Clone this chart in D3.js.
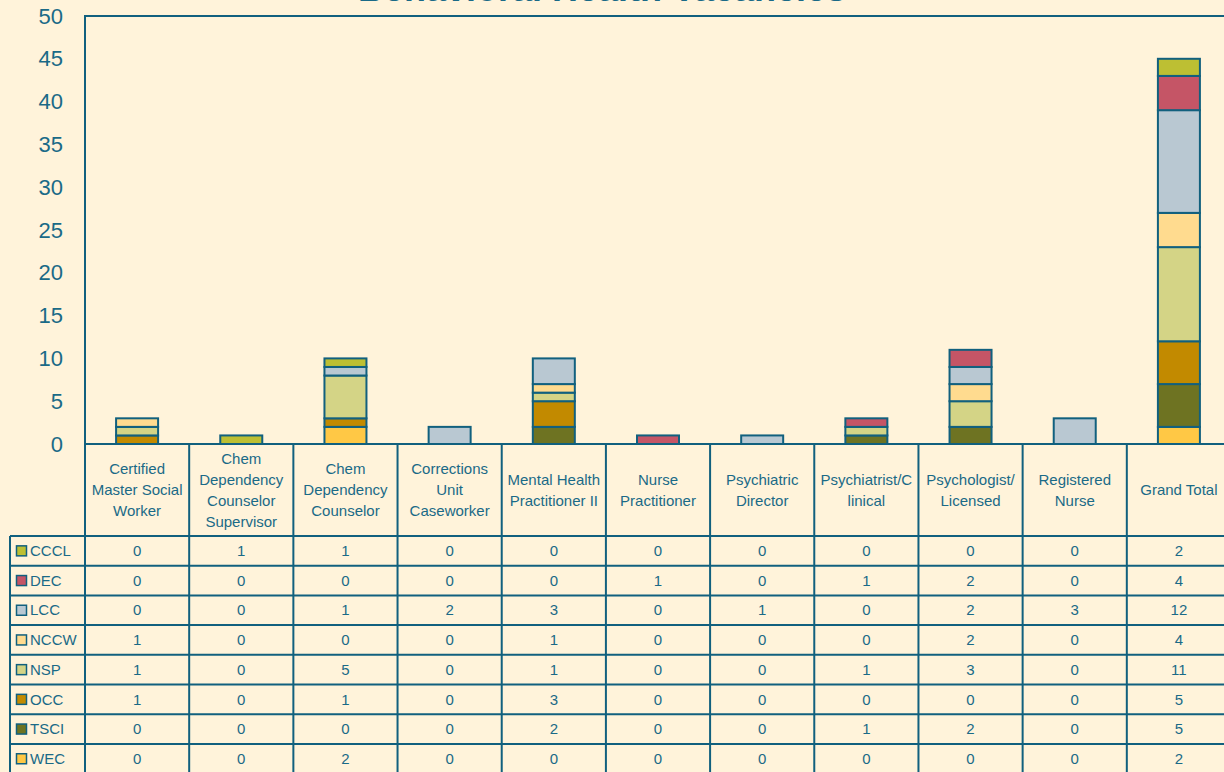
<!DOCTYPE html>
<html>
<head>
<meta charset="utf-8">
<script src="https://cdn.jsdelivr.net/npm/d3@7"></script>
<style>
  body { margin: 0; background: #fff3da; overflow: hidden; }
  svg { display: block; }
  text { font-family: "Liberation Sans", Arial, sans-serif; fill: #1a6a87; }
</style>
</head>
<body>
<svg id="chart" width="1224" height="772"></svg>
<script>
// categories (line breaks as shown in the header cells)
const categories = [
  'Certified\nMaster Social\nWorker',
  'Chem\nDependency\nCounselor\nSupervisor',
  'Chem\nDependency\nCounselor',
  'Corrections\nUnit\nCaseworker',
  'Mental Health\nPractitioner II',
  'Nurse\nPractitioner',
  'Psychiatric\nDirector',
  'Psychiatrist/C\nlinical',
  'Psychologist/\nLicensed',
  'Registered\nNurse',
  'Grand Total'
];

// series in table order (top to bottom)
const seriesNames = ['CCCL', 'DEC', 'LCC', 'NCCW', 'NSP', 'OCC', 'TSCI', 'WEC'];
const seriesColors = ['#bdbf33', '#c55566', '#b9c8d2', '#ffdb8f', '#d4d486', '#c28a00', '#6e7322', '#ffc845'];

const CCCL = [0, 1, 1, 0, 0, 0, 0, 0, 0, 0, 2];
const DEC  = [0, 0, 0, 0, 0, 1, 0, 1, 2, 0, 4];
const LCC  = [0, 0, 1, 2, 3, 0, 1, 0, 2, 3, 12];
const NCCW = [1, 0, 0, 0, 1, 0, 0, 0, 2, 0, 4];
const NSP  = [1, 0, 5, 0, 1, 0, 0, 1, 3, 0, 11];
const OCC  = [1, 0, 1, 0, 3, 0, 0, 0, 0, 0, 5];
const TSCI = [0, 0, 0, 0, 2, 0, 0, 1, 2, 0, 5];
const WEC  = [0, 0, 2, 0, 0, 0, 0, 0, 0, 0, 2];

const yTicks = [0, 5, 10, 15, 20, 25, 30, 35, 40, 45, 50];

const seriesValues = [CCCL, DEC, LCC, NCCW, NSP, OCC, TSCI, WEC];
const lineColor = '#11607e';

const svg = d3.select('#chart');

// build rows for the stack
const rows = categories.map(function (c, i) {
  const r = { cat: c };
  seriesNames.forEach(function (s, j) { r[s] = seriesValues[j][i]; });
  return r;
});

// stacked bottom to top: WEC first, CCCL last
const stackKeys = seriesNames.slice().reverse();
const stacked = d3.stack().keys(stackKeys)(rows);
const colorOf = d3.scaleOrdinal().domain(seriesNames).range(seriesColors);

const plotLeft = 85, plotTop = 16, plotBottom = 444;
const x = d3.scaleBand().domain(categories).range([plotLeft, 1231]);
const y = d3.scaleLinear().domain([0, 50]).range([plotBottom, plotTop]);

// title (cut off at the top edge, as in the original)
svg.append('text')
  .attr('x', 602)
  .attr('y', 0.5)
  .attr('text-anchor', 'middle')
  .style('font-size', '36px')
  .style('font-weight', 'bold')
  .text('Behavioral Health Vacancies');

// y axis labels
const yAxis = d3.axisLeft(y).tickValues(yTicks).tickSize(0).tickPadding(22);
const gy = svg.append('g').attr('transform', 'translate(' + plotLeft + ',0)').call(yAxis);
gy.select('.domain').remove();
gy.selectAll('text')
  .style('font-size', '22px')
  .style('font-family', '"Liberation Sans", Arial, sans-serif')
  .attr('fill', '#1a6a87');

// bars
const barW = 42;
svg.append('g')
  .selectAll('g')
  .data(stacked)
  .join('g')
  .attr('fill', function (d) { return colorOf(d.key); })
  .selectAll('rect')
  .data(function (d) { return d.filter(function (p) { return p[1] > p[0]; }); })
  .join('rect')
  .attr('x', function (d) { return x(d.data.cat) + x.bandwidth() / 2 - barW / 2; })
  .attr('y', function (d) { return y(d[1]); })
  .attr('width', barW)
  .attr('height', function (d) { return y(d[0]) - y(d[1]); })
  .attr('stroke', lineColor)
  .attr('stroke-width', 2);

// plot frame (top and left)
svg.append('path')
  .attr('d', 'M' + plotLeft + ',' + 536 + 'V' + plotTop + 'H1224')
  .attr('fill', 'none')
  .attr('stroke', lineColor)
  .attr('stroke-width', 2);

// header row
const headTop = plotBottom, tableTop = 536, rowH = 29.7;
const tableBottom = tableTop + rowH * seriesNames.length;
const legendLeft = 10;

svg.append('line')
  .attr('x1', plotLeft).attr('x2', 1224)
  .attr('y1', headTop).attr('y2', headTop)
  .attr('stroke', lineColor).attr('stroke-width', 2);

// vertical column lines
const colEdges = categories.map(function (c) { return x(c) + x.bandwidth(); });
svg.append('g')
  .selectAll('line')
  .data(colEdges)
  .join('line')
  .attr('x1', function (d) { return d; })
  .attr('x2', function (d) { return d; })
  .attr('y1', headTop)
  .attr('y2', tableBottom)
  .attr('stroke', lineColor)
  .attr('stroke-width', 2);

svg.append('line')
  .attr('x1', plotLeft).attr('x2', plotLeft)
  .attr('y1', plotTop).attr('y2', tableBottom)
  .attr('stroke', lineColor).attr('stroke-width', 2);
svg.append('line')
  .attr('x1', legendLeft).attr('x2', legendLeft)
  .attr('y1', tableTop).attr('y2', tableBottom)
  .attr('stroke', lineColor).attr('stroke-width', 2);

// horizontal row lines
svg.append('g')
  .selectAll('line')
  .data(d3.range(seriesNames.length + 1))
  .join('line')
  .attr('x1', legendLeft)
  .attr('x2', 1224)
  .attr('y1', function (i) { return tableTop + i * rowH; })
  .attr('y2', function (i) { return tableTop + i * rowH; })
  .attr('stroke', lineColor)
  .attr('stroke-width', 2);

// header labels
const lineH = 21;
const headMid = (headTop + tableTop) / 2;
svg.append('g')
  .selectAll('text')
  .data(categories)
  .join('text')
  .attr('text-anchor', 'middle')
  .style('font-size', '15px')
  .each(function (c) {
    const lines = c.split('\n');
    const t = d3.select(this);
    const y0 = headMid - (lines.length - 1) * lineH / 2;
    lines.forEach(function (l, k) {
      t.append('tspan')
        .attr('x', x(c) + x.bandwidth() / 2)
        .attr('y', y0 + k * lineH)
        .attr('dy', '0.35em')
        .text(l);
    });
  });

// legend cells
const legend = svg.append('g')
  .selectAll('g')
  .data(seriesNames)
  .join('g')
  .attr('transform', function (d, i) { return 'translate(0,' + (tableTop + i * rowH) + ')'; });

legend.append('rect')
  .attr('x', 16.5)
  .attr('y', rowH / 2 - 5)
  .attr('width', 10)
  .attr('height', 10)
  .attr('fill', function (d) { return colorOf(d); })
  .attr('stroke', lineColor)
  .attr('stroke-width', 1.5);

legend.append('text')
  .attr('x', 30)
  .attr('y', rowH / 2)
  .attr('dy', '0.35em')
  .style('font-size', '15px')
  .text(function (d) { return d; });

// table values
legend.each(function (s, j) {
  d3.select(this)
    .selectAll('text.val')
    .data(seriesValues[j])
    .join('text')
    .attr('class', 'val')
    .attr('x', function (v, i) { return x(categories[i]) + x.bandwidth() / 2; })
    .attr('y', rowH / 2)
    .attr('dy', '0.35em')
    .attr('text-anchor', 'middle')
    .style('font-size', '15px')
    .text(function (v) { return v; });
});
</script>
</body>
</html>
